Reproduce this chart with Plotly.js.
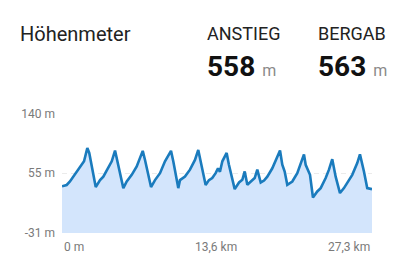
<!DOCTYPE html>
<html>
<head>
<meta charset="utf-8">
<script src="https://cdn.plot.ly/plotly-3.0.1.min.js"></script>
<style>html,body{margin:0;padding:0;background:#fff;}#chart{width:408px;height:267px;}</style>
</head>
<body>
<div id="chart"></div>
<script>
const distanceKm = [0,0.41,0.70,1.14,1.59,1.94,2.23,2.40,2.97,3.35,3.64,4.08,4.38,4.67,4.82,5.40,5.70,6.14,6.58,7.11,7.31,7.84,8.19,8.63,9.07,9.60,9.80,10.24,10.39,10.83,11.27,11.71,12.00,12.24,12.65,12.94,13.23,13.53,13.74,13.91,14.12,14.50,14.70,15.21,15.59,15.88,16.09,16.32,16.62,16.97,17.20,17.50,17.79,18.08,18.52,18.82,19.20,19.40,19.61,19.84,20.28,20.72,21.31,21.46,21.84,22.10,22.48,22.78,23.22,23.51,23.80,24.10,24.48,24.83,25.12,25.56,26.00,26.24,26.59,26.88,27.30];
const elevationM = [36,38,43,53,64.5,72,91,84,35,45,50,62,72,87.5,76,33.5,43,52.6,64.5,87,74,35,45,55,72,87,72,33.5,45,50,60,74,88.4,70,38,45,48,55,62,57,72,84,67,32,41.6,45.4,57.4,38.3,43,48,60,41.6,44.4,50,62,74,87.5,67,57.4,38.3,43,55,82,67,52.6,20,28.7,33.5,48,60,75,50,26.4,33.5,40.7,52.6,69.4,82,57.4,33.5,32];
const yTickVals = [-31, 55, 140];
const yTickText = ["-31 m", "55 m", "140 m"];
const xTickVals = [0, 13.6, 27.3];
const xTickText = ["0 m", "13,6 km", "27,3 km"];
const headerTitle = "Höhenmeter";
const statLabels = ["ANSTIEG", "BERGAB"];
const statValues = [558, 563];
const statUnit = "m";

const yMin = yTickVals[0], yMax = yTickVals[yTickVals.length-1];
const xMax = xTickVals[xTickVals.length-1];

const W = 408, H = 267;
const L = 62, R = 36, T = 114, B = 34;
const pw = W - L - R, ph = H - T - B;
const px = x => (x - L) / pw;
const py = y => (H - B - y) / ph;

const baseline = {
  x: distanceKm, y: distanceKm.map(() => yMin),
  mode: 'lines', line: {width: 0, color: 'rgba(0,0,0,0)'},
  hoverinfo: 'skip', showlegend: false
};
const profile = {
  x: distanceKm, y: elevationM,
  mode: 'lines', fill: 'tonexty', fillcolor: '#d3e5fc',
  line: {color: '#1a7bbd', width: 2.6, shape: 'linear'},
  showlegend: false
};

const anchors = ['left', 'center', 'right'];
const annotations = [];
xTickVals.forEach((v, i) => {
  annotations.push({
    x: v, xref: 'x', y: 0, yref: 'paper', yanchor: 'top', yshift: -5,
    xanchor: anchors[i], text: xTickText[i], showarrow: false,
    font: {family: 'Roboto', size: 12, color: '#7a7a7a'}
  });
});
annotations.push({
  x: px(18), xref: 'paper', y: py(34), yref: 'paper', xanchor: 'left', yanchor: 'middle',
  text: headerTitle, showarrow: false, font: {family: 'Roboto', size: 20, color: '#222'}
});
const statX = [205, 316];
statLabels.forEach((lab, i) => {
  annotations.push({
    x: px(statX[i]), xref: 'paper', y: py(33), yref: 'paper', xanchor: 'left', yanchor: 'middle',
    text: lab, showarrow: false, font: {family: 'Roboto', size: 18, color: '#222'}
  });
  annotations.push({
    x: px(statX[i]), xref: 'paper', y: py(66), yref: 'paper', xanchor: 'left', yanchor: 'middle',
    text: '<b>' + statValues[i] + '</b> <span style="font-size:16px;color:#8a8a8a">' + statUnit + '</span>',
    showarrow: false, font: {family: 'Roboto', size: 28, color: '#111'}
  });
});

const layout = {
  width: W, height: H,
  margin: {l: L, r: R, t: T, b: B, pad: 0},
  paper_bgcolor: '#fff', plot_bgcolor: '#fff',
  xaxis: {range: [0, xMax], showgrid: false, zeroline: false, showticklabels: false, showline: false, fixedrange: true},
  yaxis: {range: [yMin, yMax], tickvals: yTickVals, ticktext: yTickText, showgrid: true,
    gridcolor: '#ebebeb', griddash: '5px,4px', gridwidth: 1, zeroline: false, showline: false,
    ticks: '', ticklabelstandoff: 6, tickfont: {family: 'Roboto', size: 12, color: '#7a7a7a'}},
  annotations: annotations,
  showlegend: false
};
Plotly.newPlot('chart', [baseline, profile], layout, {staticPlot: true, displayModeBar: false});
</script>
</body>
</html>
